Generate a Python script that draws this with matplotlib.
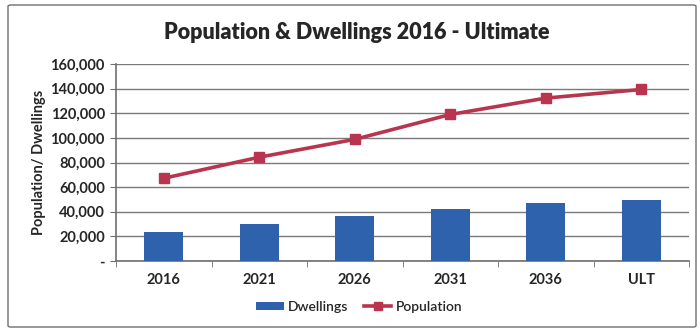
import matplotlib.pyplot as plt
from matplotlib.patches import FancyBboxPatch
from matplotlib.ticker import FuncFormatter

# Chart data
categories = ['2016', '2021', '2026', '2031', '2036', 'ULT']
dwellings = [23600, 29900, 36400, 42400, 47100, 49700]
population = [67200, 84300, 98800, 119000, 132300, 139300]
y_ticks = [0, 20000, 40000, 60000, 80000, 100000, 120000, 140000, 160000]

plt.rcParams['font.family'] = ['Lato', 'DejaVu Sans']

bar_color = '#2F62AD'
line_color = '#B9344F'
text_color = '#262626'

fig = plt.figure(figsize=(7, 3.29), dpi=100)

# outer chart border
border = FancyBboxPatch((8 / 700, 2 / 329), 688 / 700, 322 / 329,
                        boxstyle='round,pad=0,rounding_size=0.004',
                        transform=fig.transFigure, fill=False,
                        edgecolor='#6e6e6e', linewidth=1.0)
fig.patches.append(border)

ax = fig.add_axes([116 / 700, 1 - 261 / 329, 573 / 700, 197 / 329])

x = list(range(len(categories)))
bars = ax.bar(x, dwellings, width=0.41, color=bar_color, zorder=3, label='Dwellings')
line, = ax.plot(x, population, color=line_color, linewidth=2.6, marker='s',
                markersize=7, zorder=4, label='Population')

ax.set_xlim(-0.5, len(categories) - 0.5)
ax.set_ylim(0, 160000)
ax.set_yticks(y_ticks)
ax.yaxis.set_major_formatter(FuncFormatter(lambda v, p: '-' if v == 0 else f'{int(v):,}'))
ax.set_xticks(x)
ax.set_xticklabels(categories)
ax.set_xticks([i + 0.5 for i in range(-1, len(categories))], minor=True)

ax.grid(axis='y', color='#7a7a7a', linewidth=1.0, zorder=0)
for side in ['top', 'right']:
    ax.spines[side].set_visible(False)
for side in ['left', 'bottom']:
    ax.spines[side].set_color('#6e6e6e')
    ax.spines[side].set_linewidth(1.2)

ax.tick_params(axis='x', which='major', length=0, pad=9, labelsize=10.5,
               labelcolor=text_color)
ax.tick_params(axis='x', which='minor', length=4, color='#6e6e6e')
ax.tick_params(axis='y', length=4, color='#6e6e6e', pad=4, labelsize=10.5,
               labelcolor=text_color)
for lbl in ax.get_xticklabels() + ax.get_yticklabels():
    lbl.set_fontweight('bold')

ax.set_ylabel('Population/ Dwellings', fontsize=10.5, fontweight='bold',
              color=text_color, labelpad=3)

fig.text(0.51, 0.9, 'Population & Dwellings 2016 - Ultimate', ha='center',
         va='center', fontsize=15.5, fontweight='heavy', color=text_color)

leg = fig.legend([bars, line], ['Dwellings', 'Population'], loc='center',
                 bbox_to_anchor=(0.513, 0.067), ncol=2, frameon=False,
                 fontsize=10, handlelength=2.0, handleheight=0.6,
                 columnspacing=1.1, handletextpad=0.3, markerscale=0.9)
for t in leg.get_texts():
    t.set_color(text_color)
    t.set_fontweight('semibold')

fig.savefig('out.png', dpi=100)
